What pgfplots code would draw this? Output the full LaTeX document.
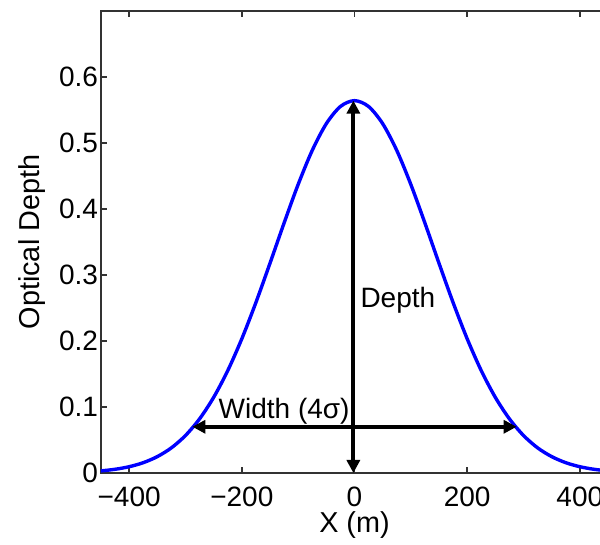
\documentclass[border=0pt]{standalone}
\usepackage{fontspec}
\setmainfont{Liberation Sans}
\usepackage{pgfplots}
\pgfplotsset{compat=1.18}
\usetikzlibrary{arrows.meta,calc}
\begin{document}
\begin{tikzpicture}
\begin{axis}[
  scale only axis,
  width=253.5pt, height=231pt,
  xmin=-450, xmax=450, ymin=0, ymax=0.7,
  xtick={-400,-200,0,200,400},
  xticklabels={−400,−200,0,200,400},
  ytick={0,0.1,0.2,0.3,0.4,0.5,0.6},
  yticklabels={0,0.1,0.2,0.3,0.4,0.5,0.6},
  tick align=inside,
  major tick length=2.8pt,
  axis line style={black!80, line width=0.9pt},
  every tick/.style={black!80, line width=0.9pt},
  tick label style={font=\fontsize{14}{17}\selectfont},
  xticklabel style={yshift=-3.5pt},
  yticklabel style={xshift=2pt},
  label style={font=\fontsize{14.4}{17}\selectfont},
  xlabel={X (m)},
  ylabel={Optical Depth},
  xlabel style={at={(axis description cs:0.5,-0.1126)}, anchor=center},
  ylabel style={at={(axis description cs:-0.136,0.5)}, anchor=center},
  clip=true,
]
\addplot[blue, line width=1.7pt, smooth] coordinates {
(-475,0.0018) (-450,0.0032) (-425,0.0056) (-400,0.0095) (-375,0.0156) (-350,0.0248)
(-325,0.0381) (-300,0.0568) (-275,0.0820) (-250,0.1146) (-225,0.1551)
(-200,0.2034) (-175,0.2583) (-150,0.3178) (-125,0.3787) (-100,0.4372)
(-75,0.4888) (-50,0.5293) (-25,0.5553) (0,0.5642) (25,0.5553) (50,0.5293)
(75,0.4888) (100,0.4372) (125,0.3787) (150,0.3178) (175,0.2583)
(200,0.2034) (225,0.1551) (250,0.1146) (275,0.0820) (300,0.0568)
(325,0.0381) (350,0.0248) (375,0.0156) (400,0.0095) (425,0.0056)
(450,0.0032) (475,0.0018)
};
\addplot[black, line width=2pt, {Triangle[length=6.5pt,width=6.5pt]}-{Triangle[length=6.5pt,width=6.5pt]}, shorten <=-0.5pt, shorten >=-0.5pt] coordinates {(-286,0.07) (286,0.07)};
\addplot[black, line width=2pt, {Triangle[length=6.5pt,width=6.5pt]}-{Triangle[length=6.5pt,width=6.5pt]}] coordinates {(-2,0.0) (-2,0.5642)};
\node[anchor=base east, font=\fontsize{14}{17}\selectfont, inner sep=0pt] at (axis cs:-8,0.083) {Width (4σ)};
\node[anchor=base west, font=\fontsize{14}{17}\selectfont, inner sep=0pt] at (axis cs:10,0.25) {Depth};
\coordinate (SW) at (rel axis cs:0,0);
\coordinate (NW) at (rel axis cs:0,1);
\end{axis}
\pgfresetboundingbox
\path[use as bounding box] ($(SW)+(-50.5pt,-36pt)$) rectangle ($(NW)+(249.5pt,5.5pt)$);
\end{tikzpicture}
\end{document}
